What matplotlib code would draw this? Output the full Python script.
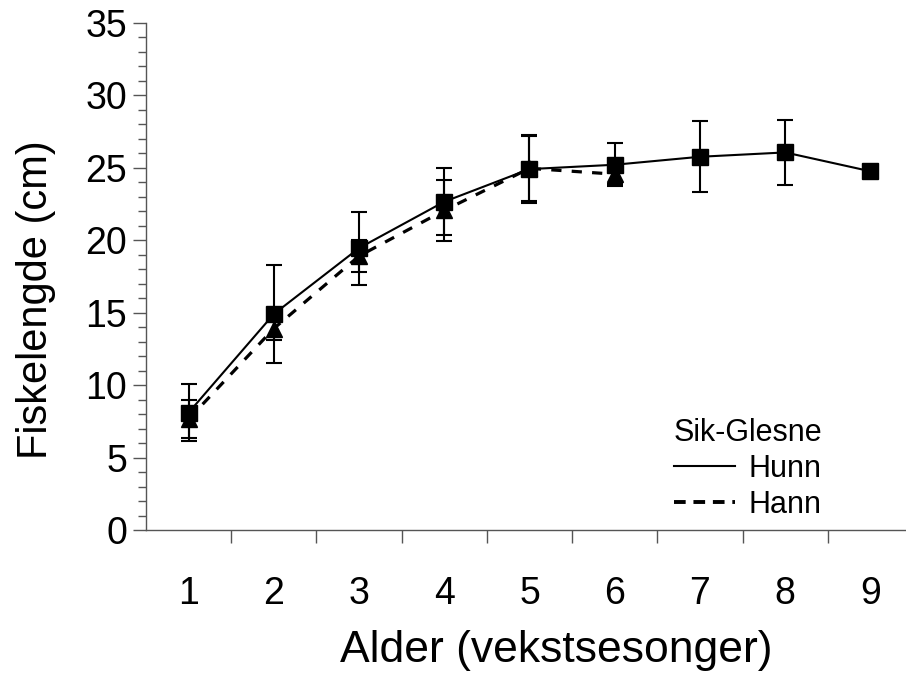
import matplotlib
matplotlib.use("Agg")
import matplotlib.pyplot as plt
from matplotlib.lines import Line2D
import numpy as np

plt.rcParams['font.family'] = ['Liberation Sans', 'DejaVu Sans']

ages = [1, 2, 3, 4, 5, 6, 7, 8, 9]
hunn_mean = [8.1, 14.9, 19.45, 22.65, 24.9, 25.2, 25.75, 26.05, 24.75]
hunn_sd = [1.97, 3.35, 2.52, 2.3, 2.37, 1.5, 2.45, 2.25, 0.0]
hann_ages = [1, 2, 3, 4, 5, 6]
hann_mean = [7.65, 13.9, 18.9, 22.05, 24.95, 24.55]
hann_sd = [1.3, 0.8, 1.1, 2.1, 2.25, 0.7]

W, H = 906, 681
AX_L, AX_R, AX_B, AX_T = 146, 913, 530, 22.7
fig = plt.figure(figsize=(W / 100, H / 100), dpi=100)
ax = fig.add_axes([AX_L / W, 1 - AX_B / H, (AX_R - AX_L) / W, (AX_B - AX_T) / H])

# Hann (dashed, triangles)
ax.errorbar(hann_ages, hann_mean, yerr=hann_sd, fmt='none', ecolor='black',
            elinewidth=1.5, capsize=6, capthick=1.5, zorder=2)
ax.plot(hann_ages, hann_mean, color='black', lw=2.3, dashes=(3.2, 3.2),
        marker='^', markersize=11, markerfacecolor='black', zorder=3)
# Hunn (solid, squares)
ax.errorbar(ages, hunn_mean, yerr=hunn_sd, fmt='none', ecolor='black',
            elinewidth=1.5, capsize=6, capthick=1.5, zorder=4)
ax.plot(ages, hunn_mean, color='black', lw=1.5, marker='s', markersize=12,
        markerfacecolor='black', zorder=5)

ax.set_xlim(0.5, 9.5)
ax.set_ylim(0, 35)
ax.set_yticks(np.arange(0, 36, 5))
ax.set_yticks(np.arange(0, 36, 1), minor=True)
ax.set_xticks(ages)
ax.set_xticks(np.arange(1.5, 9.0, 1), minor=True)
ax.set_xticklabels([str(a) for a in ages])

for s in ['top', 'right']:
    ax.spines[s].set_visible(False)
for s in ['left', 'bottom']:
    ax.spines[s].set_color('#555555')
    ax.spines[s].set_linewidth(1.0)

ax.tick_params(axis='y', which='major', direction='out', length=9.5, width=1,
               color='#555555', labelsize=27, pad=4)
ax.tick_params(axis='y', which='minor', direction='out', length=6, width=1,
               color='#555555')
ax.tick_params(axis='x', which='major', length=0, labelsize=27, pad=33)
ax.tick_params(axis='x', which='minor', direction='out', length=9, width=1,
               color='#555555')

ax.set_ylabel('Fiskelengde (cm)', fontsize=30)
ax.set_xlabel('Alder (vekstsesonger)', fontsize=32)
ax.yaxis.set_label_coords((56 - AX_L) / (AX_R - AX_L), (AX_B - 300) / (AX_B - AX_T))
ax.xaxis.set_label_coords((556 - AX_L) / (AX_R - AX_L), (AX_B - 630) / (AX_B - AX_T))

handles = [Line2D([], [], color='black', lw=1.5),
           Line2D([], [], color='black', lw=2.8, dashes=(3.0, 2.0))]
leg = ax.legend(handles, ['Hunn', 'Hann'], title='Sik-Glesne', frameon=False,
                fontsize=22, title_fontsize=22, loc='lower right',
                bbox_to_anchor=(822 / W, 1 - 520 / H), bbox_transform=fig.transFigure,
                borderaxespad=0, borderpad=0, handlelength=2.0, handletextpad=0.45,
                labelspacing=0.2)

fig.savefig('out.png', dpi=100)
